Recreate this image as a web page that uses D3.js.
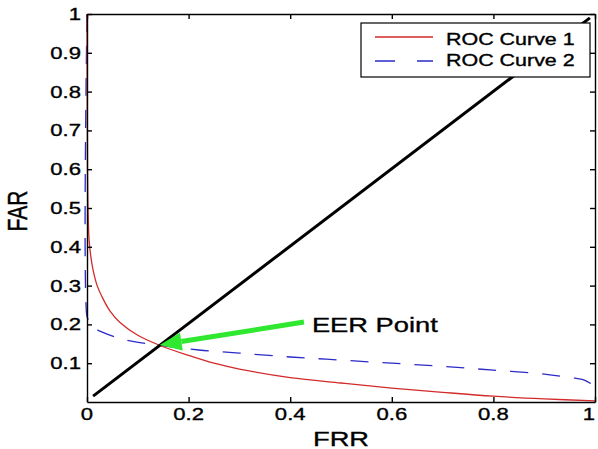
<!DOCTYPE html>
<html>
<head>
<meta charset="utf-8">
<script src="https://cdn.jsdelivr.net/npm/d3@7"></script>
<style>
  html, body { margin: 0; padding: 0; background: #fff; }
  text { font-family: 'Liberation Sans', Arial, sans-serif; fill: #000; stroke: #000; stroke-width: 0.35px; }
</style>
</head>
<body>
<div id="chart"></div>
<script>
// ROC curve 1 (red, solid): [FRR, FAR]
var roc1 = [
  [0, 1], [0.001, 0.6], [0.002, 0.5], [0.004, 0.42], [0.007, 0.38],
  [0.012, 0.34], [0.02, 0.3], [0.03, 0.27], [0.045, 0.235], [0.065, 0.205],
  [0.1, 0.172], [0.145, 0.145], [0.2, 0.12], [0.25, 0.1], [0.3, 0.085],
  [0.4, 0.063], [0.5, 0.049], [0.6, 0.036], [0.7, 0.025], [0.8, 0.015],
  [0.9, 0.008], [1, 0.003]
]
// ROC curve 2 (blue, dashed)
var roc2 = [
  [0, 1], [0, 0.22], [0.003, 0.212], [0.012, 0.193], [0.03, 0.18],
  [0.055, 0.168], [0.09, 0.156], [0.15, 0.145], [0.22, 0.134], [0.3, 0.126],
  [0.4, 0.116], [0.5, 0.108], [0.6, 0.1], [0.7, 0.092], [0.8, 0.082],
  [0.9, 0.072], [0.95, 0.063], [0.98, 0.056], [1, 0.04]
]
// equal error line
var eerLine = [[0.012, 0.015], [0.99, 0.99]]
var eerPoint = [0.143, 0.147]
var arrowStart = [0.427, 0.206]
var xTicks = [0, 0.2, 0.4, 0.6, 0.8, 1]
var yTicks = [0.1, 0.2, 0.3, 0.4, 0.5, 0.6, 0.7, 0.8, 0.9, 1]
var legendNames = ['ROC Curve 1', 'ROC Curve 2']

var width = 598,
  height = 449,
  plotL = 87,
  plotR = 595,
  plotT = 14,
  plotB = 402,
  stretch = 1.3

var x = d3.scaleLinear().domain([0, 1]).range([plotL, plotR])
var y = d3.scaleLinear().domain([0, 1]).range([plotB, plotT])

var svg = d3
  .select('#chart')
  .append('svg')
  .attr('width', width)
  .attr('height', height)

// text in the source is wider than normal, so scale it horizontally
function label(px, py, str, size, anchor, rotate) {
  return svg
    .append('text')
    .attr('transform', 'translate(' + px + ',' + py + ') scale(' + stretch + ',1)' + (rotate ? ' rotate(' + rotate + ')' : ''))
    .attr('text-anchor', anchor || 'start')
    .style('font-size', size + 'px')
    .text(str)
}

var line = d3
  .line()
  .curve(d3.curveCatmullRom.alpha(0.5))
  .x(function(d) { return x(d[0]) })
  .y(function(d) { return y(d[1]) })

svg.append('path')
  .attr('d', line(roc2))
  .attr('fill', 'none')
  .attr('stroke', '#2b2bc8')
  .attr('stroke-width', 1.3)
  .attr('stroke-dasharray', '18,14')

svg.append('path')
  .attr('d', line(roc1))
  .attr('fill', 'none')
  .attr('stroke', '#d42a2a')
  .attr('stroke-width', 1.3)

svg.append('path')
  .attr('d', d3.line().x(function(d) { return x(d[0]) }).y(function(d) { return y(d[1]) })(eerLine))
  .attr('fill', 'none')
  .attr('stroke', '#000')
  .attr('stroke-width', 3)

// green arrow to the EER point
var tx = x(eerPoint[0]), ty = y(eerPoint[1])
var sx = x(arrowStart[0]), sy = y(arrowStart[1])
var len = Math.hypot(sx - tx, sy - ty)
var ux = (sx - tx) / len, uy = (sy - ty) / len
var headLen = 22, headW = 9
var bx = tx + ux * headLen, by = ty + uy * headLen
svg.append('line')
  .attr('x1', sx).attr('y1', sy)
  .attr('x2', bx).attr('y2', by)
  .attr('stroke', '#2fe82f')
  .attr('stroke-width', 5)
svg.append('polygon')
  .attr('points', [
    [tx, ty],
    [bx - uy * headW, by + ux * headW],
    [bx + uy * headW, by - ux * headW]
  ].map(function(p) { return p.join(',') }).join(' '))
  .attr('fill', '#2fe82f')

label(sx + 8, sy + 10, 'EER Point', 21)

// axes with inward ticks on all four sides
function styleAxis(g) {
  g.selectAll('path, line').attr('stroke', '#000').attr('stroke-width', 1.4)
  g.selectAll('text').remove()
}
svg.append('g').attr('transform', 'translate(0,' + plotB + ')')
  .call(d3.axisBottom(x).tickValues(xTicks).tickSize(-5).tickSizeOuter(0)).call(styleAxis)
svg.append('g').attr('transform', 'translate(0,' + plotT + ')')
  .call(d3.axisTop(x).tickValues(xTicks).tickSize(-5).tickSizeOuter(0)).call(styleAxis)
svg.append('g').attr('transform', 'translate(' + plotL + ',0)')
  .call(d3.axisLeft(y).tickValues(yTicks).tickSize(-5).tickSizeOuter(0)).call(styleAxis)
svg.append('g').attr('transform', 'translate(' + plotR + ',0)')
  .call(d3.axisRight(y).tickValues(yTicks).tickSize(-5).tickSizeOuter(0)).call(styleAxis)

xTicks.forEach(function(t) {
  label(x(t), plotB + 18, d3.format('~g')(t), 17, t === 1 ? 'end' : 'middle')
})
yTicks.forEach(function(t) {
  label(plotL - 6, y(t) + 6, d3.format('~g')(t), 17, 'end')
})

label((plotL + plotR) / 2, 446, 'FRR', 21, 'middle')
label(27, (plotT + plotB) / 2 + 3, 'FAR', 21, 'middle', -90)

// legend
var lg = svg.append('g')
lg.append('rect')
  .attr('x', 361).attr('y', 23)
  .attr('width', 229).attr('height', 54)
  .attr('fill', '#fff')
  .attr('stroke', '#000')
  .attr('stroke-width', 1.2)
lg.append('line')
  .attr('x1', 375).attr('x2', 433).attr('y1', 37).attr('y2', 37)
  .attr('stroke', '#d42a2a').attr('stroke-width', 1.3)
lg.append('line')
  .attr('x1', 375).attr('x2', 433).attr('y1', 61).attr('y2', 61)
  .attr('stroke', '#2b2bc8').attr('stroke-width', 1.3)
  .attr('stroke-dasharray', '20,22')
label(446, 45, legendNames[0], 16.5)
label(446, 66, legendNames[1], 16.5)
</script>
</body>
</html>
